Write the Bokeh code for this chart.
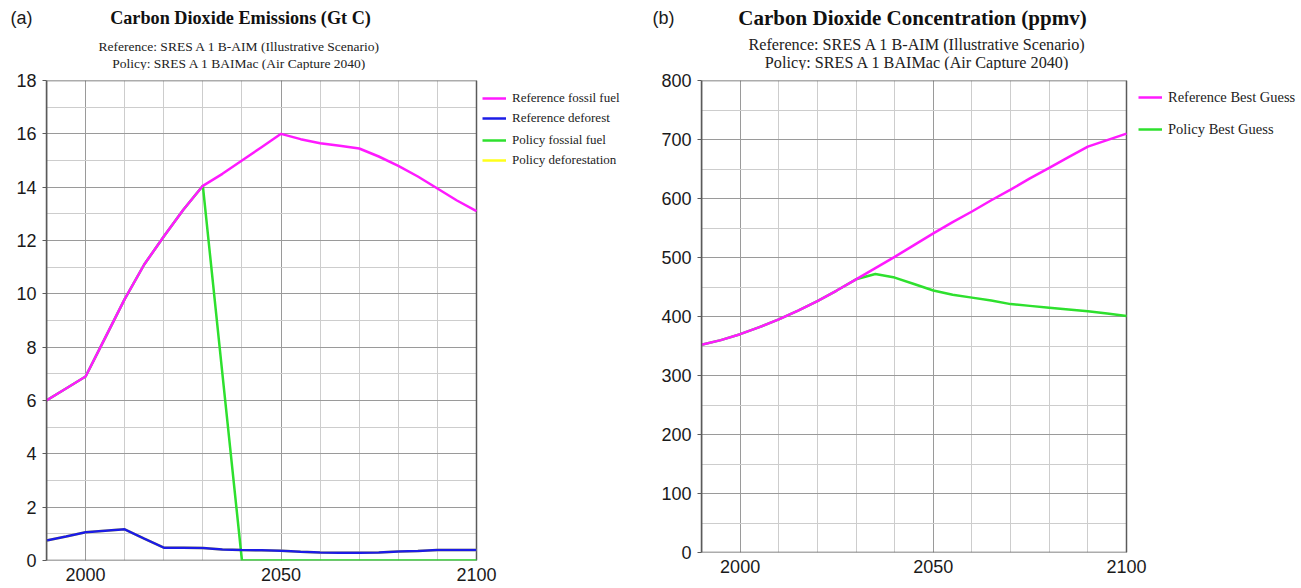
from bokeh.plotting import figure
from bokeh.models import (Range1d, SingleIntervalTicker, FixedTicker, Label, Legend,
                          LegendItem, BoxAnnotation)
from bokeh.layouts import row, column
from bokeh.embed import file_html
from bokeh.resources import INLINE

# ---------------- data ----------------
years = [1990, 1995, 2000, 2005, 2010, 2015, 2020, 2025, 2030, 2035, 2040, 2045,
         2050, 2055, 2060, 2065, 2070, 2075, 2080, 2085, 2090, 2095, 2100]

# (a) emissions, Gt C
ref_fossil = [6.0, 6.45, 6.9, 8.35, 9.8, 11.1, 12.15, 13.15, 14.05, 14.5, 15.0, 15.5,
              16.0, 15.8, 15.65, 15.55, 15.45, 15.15, 14.8, 14.4, 13.95, 13.5, 13.1]
ref_deforest = [0.75, 0.9, 1.06, 1.12, 1.17, 0.82, 0.48, 0.48, 0.47, 0.41, 0.39, 0.38,
                0.37, 0.33, 0.3, 0.29, 0.29, 0.3, 0.34, 0.36, 0.39, 0.39, 0.39]
pol_fossil = [6.0, 6.45, 6.9, 8.35, 9.8, 11.1, 12.15, 13.15, 14.05, 7.0, 0.0, 0.0,
              0.0, 0.0, 0.0, 0.0, 0.0, 0.0, 0.0, 0.0, 0.0, 0.0, 0.0]
pol_deforest = [0.75, 0.9, 1.06, 1.12, 1.17, 0.82, 0.48, 0.48, 0.47, 0.41, 0.39, 0.38,
                0.37, 0.33, 0.3, 0.29, 0.29, 0.3, 0.34, 0.36, 0.39, 0.39, 0.39]

# (b) concentration, ppmv
ref_conc = [352, 360, 370, 382, 395, 410, 426, 444, 463, 482, 501, 521,
            541, 560, 578, 597, 615, 634, 652, 670, 688, 699, 710]
pol_conc = [352, 360, 370, 382, 395, 410, 426, 444, 463, 472, 466, 455,
            444, 437, 432, 427, 421, 418, 415, 412, 409, 405, 401]

x_tick_labels = [2000, 2050, 2100]
X0, X1 = 1990, 2100

tags = ["(a)", "(b)"]
titles = ["Carbon Dioxide Emissions (Gt C)", "Carbon Dioxide Concentration (ppmv)"]
sub1 = "Reference: SRES A 1 B-AIM (Illustrative Scenario)"
sub2 = "Policy: SRES A 1 BAIMac (Air Capture 2040)"

MAGENTA = "#ff1aff"
BLUE = "#1c1ce6"
GREEN = "#2ee02e"
YELLOW = "#ffff1a"
SERIF = "Liberation Serif"
SANS = "Liberation Sans"
FRAME = "#5a5a5a"

TOTAL_W = 1300
TOP_H = 70
TB, BB = 10, 28


def base(width, ymax, ystep, lb, plot_w, plot_h, xstand):
    frame_w = width - lb
    # the frame also hosts the legend; the chart itself spans X0..X1 over plot_w pixels
    x_end = X0 + (X1 - X0) * frame_w / plot_w
    p = figure(width=width, height=TB + plot_h + BB, output_backend="svg",
               toolbar_location=None,
               x_range=Range1d(X0, x_end), y_range=Range1d(0, ymax),
               min_border_left=lb, min_border_right=0, min_border_top=TB,
               min_border_bottom=BB,
               title=None, background_fill_color="white", border_fill_color="white")
    p.outline_line_color = None
    # x axis
    p.xaxis.ticker = FixedTicker(ticks=x_tick_labels)
    p.xaxis.bounds = (X0, X1)
    p.xaxis.major_tick_out = 0
    p.xaxis.major_tick_in = 0
    p.xaxis.minor_tick_line_color = None
    p.xaxis.major_label_standoff = xstand
    # y axis
    p.yaxis.ticker = SingleIntervalTicker(interval=ystep, num_minor_ticks=2)
    p.yaxis.major_tick_out = 4
    p.yaxis.major_tick_in = 0
    p.yaxis.minor_tick_line_color = None
    p.yaxis.major_label_standoff = 6
    for ax in (p.xaxis, p.yaxis):
        ax.axis_line_color = FRAME
        ax.axis_line_width = 1.5
        ax.major_tick_line_color = FRAME
        ax.major_label_text_font = SANS
        ax.major_label_text_font_size = "18px"
        ax.major_label_text_color = "#1a1a1a"
    # bottom edge comes from the frame box below the data lines
    p.xaxis.axis_line_color = None
    # grids
    p.xgrid.ticker = SingleIntervalTicker(interval=50, num_minor_ticks=5)
    p.xgrid.bounds = (X0, X1)
    p.xgrid.grid_line_color = "#9a9a9a"
    p.xgrid.minor_grid_line_color = "#cdcdcd"
    p.ygrid.ticker = SingleIntervalTicker(interval=ystep, num_minor_ticks=2)
    p.ygrid.cross_bounds = (X0, X1)
    p.ygrid.grid_line_color = "#9a9a9a"
    p.ygrid.minor_grid_line_color = "#cdcdcd"
    p.add_layout(BoxAnnotation(left=X0, right=X1, bottom=0, top=ymax, fill_alpha=0,
                               line_color=FRAME, line_width=1.5, line_alpha=1,
                               level="underlay"))
    return p


def make_legend(items, loc, fsize, spacing):
    return Legend(items=items, location=loc, orientation="vertical",
                  background_fill_alpha=0, border_line_alpha=0, padding=0, margin=0,
                  spacing=spacing, glyph_width=24, glyph_height=20, label_height=20,
                  label_standoff=6, label_text_font=SERIF, label_text_font_size=fsize,
                  label_text_color="#222222")


# ---------------- heading band (tags, titles, subtitles) ----------------
top = figure(width=TOTAL_W, height=TOP_H, output_backend="svg", toolbar_location=None,
             x_range=Range1d(0, TOTAL_W), y_range=Range1d(TOP_H, 0), min_border=0,
             x_axis_type=None, y_axis_type=None, title=None, outline_line_color=None)
top.xgrid.visible = False
top.ygrid.visible = False
heads = [  # tag_x, title_cx, sub_cx, title_y, sub1_y, sub2_y, title_size, sub_size
    (10, 240, 239, 17, 46, 63, "18.2px", "13.5px"),
    (652, 912, 917, 17, 44, 62, "21px", "16.2px"),
]
for i, (tx, tcx, scx, ty, s1y, s2y, tsz, ssz) in enumerate(heads):
    top.add_layout(Label(x=tx, y=ty, text=tags[i], text_font=SANS, text_font_size="18px",
                         text_color="#1a1a1a", text_baseline="middle", text_align="left"))
    top.add_layout(Label(x=tcx, y=ty, text=titles[i], text_font=SERIF, text_font_size=tsz,
                         text_font_style="bold", text_color="#111111",
                         text_baseline="middle", text_align="center"))
    top.add_layout(Label(x=scx, y=s1y, text=sub1, text_font=SERIF, text_font_size=ssz,
                         text_color="#222222", text_baseline="middle", text_align="center"))
    top.add_layout(Label(x=scx, y=s2y, text=sub2, text_font=SERIF, text_font_size=ssz,
                         text_color="#222222", text_baseline="middle", text_align="center"))

# ---------------- panel (a) ----------------
W1 = 645
p1 = base(W1, 18, 2, lb=46, plot_w=430, plot_h=480, xstand=7)
r_pd = p1.line(years, pol_deforest, line_color=YELLOW, line_width=2.5)
r_pf = p1.line(years, pol_fossil, line_color=GREEN, line_width=2.5)
r_rd = p1.line(years, ref_deforest, line_color=BLUE, line_width=2.5)
r_rf = p1.line(years, ref_fossil, line_color=MAGENTA, line_width=2.5)

lg1 = make_legend([LegendItem(label="Reference fossil fuel", renderers=[r_rf]),
                   LegendItem(label="Reference deforest", renderers=[r_rd])],
                  loc=(436, 432), fsize="13px", spacing=0)
lg2 = make_legend([LegendItem(label="Policy fossial fuel", renderers=[r_pf]),
                   LegendItem(label="Policy deforestation", renderers=[r_pd])],
                  loc=(436, 390), fsize="13px", spacing=-1)
p1.add_layout(lg1)
p1.add_layout(lg2)

# ---------------- panel (b) ----------------
W2 = TOTAL_W - W1
p2 = base(W2, 800, 100, lb=56, plot_w=425, plot_h=472, xstand=7)
r_pc = p2.line(years, pol_conc, line_color=GREEN, line_width=2.5)
r_rc = p2.line(years, ref_conc, line_color=MAGENTA, line_width=2.5)

lg3 = make_legend([LegendItem(label="Reference Best Guess", renderers=[r_rc]),
                   LegendItem(label="Policy Best Guess", renderers=[r_pc])],
                  loc=(437, 413), fsize="14.5px", spacing=12)
p2.add_layout(lg3)

layout = column(top, row(p1, p2, spacing=0), spacing=0)
open("out.html", "w").write(file_html(layout, INLINE))
